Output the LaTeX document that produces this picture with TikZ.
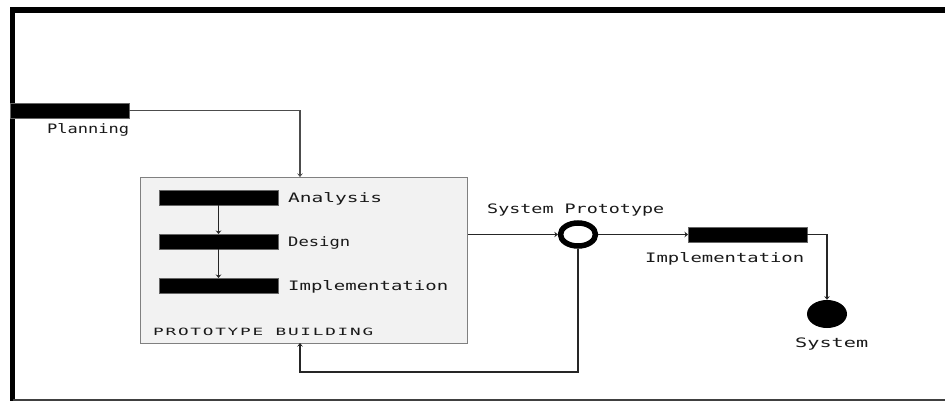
\documentclass[tikz,border=0pt]{standalone}
\usepackage{graphicx}
\usepackage{fontspec}
\setmainfont{DejaVu Sans Mono}
\newfontfamily\pixfont{DejaVu Sans Mono}
\newfontfamily\capfont[LetterSpace=10]{DejaVu Sans Mono}
\newcommand{\fitw}[2]{\resizebox{#1pt}{\height}{#2}}
\usetikzlibrary{arrows.meta,shapes.geometric}
\tikzset{
  x=1pt,y=-1pt,
  bar/.style={fill=black,draw=black!60,line width=0.4pt,minimum width=119pt,minimum height=15pt,inner sep=0pt,outer sep=0pt},
  lab/.style={inner sep=0pt,anchor=base west,font=\pixfont\fontsize{13}{14}\selectfont,text=black!90},
  conn/.style={draw=black!85,line width=1.2pt,-{Stealth[length=3.5pt,width=5.5pt]}},
  frameline/.style={line width=5.3pt,line join=miter},
}
\begin{document}
\begin{tikzpicture}
\useasboundingbox (0,0) rectangle (945,401);
\fill[white] (0,0) rectangle (945,401);
\coordinate (fa) at (12.7,401);
\coordinate (fb) at (12.7,10);
\coordinate (fc) at (945,10);
\coordinate (fd) at (12.7,400);
\coordinate (fe) at (945,400);
\draw[frameline] (fa) -- (fb) -- (fc);
\draw[black!75,line width=1.6pt] (fd) -- (fe);
\node[bar,anchor=north west] (plan) at (10,103) {};
\node[lab] (planl) at (47,134) {\fitw{82}{Planning}};
\node[draw=black!50,fill=black!5,line width=1.2pt,minimum width=327pt,minimum height=166pt,inner sep=0pt,anchor=north west] (pb) at (140,177) {};
\node[bar,anchor=north west] (an) at (159,190) {};
\node[bar,anchor=north west] (de) at (159,234) {};
\node[bar,anchor=north west] (im) at (159,278) {};
\node[lab] (anl) at (288,202) {\fitw{94}{Analysis}};
\node[lab] (del) at (288,246) {\fitw{62}{Design}};
\node[lab] (iml) at (288,290) {\fitw{160}{Implementation}};
\node[lab,font=\capfont\fontsize{10}{11}\selectfont] (pbl) at (153,335) {\fitw{220}{PROTOTYPE BUILDING}};
\node[ellipse,draw=black,fill=white,line width=5.5pt,minimum width=35pt,minimum height=23pt,inner sep=0pt,outer sep=2.7pt] (sp) at (578,234.5) {};
\node[lab] (spl) at (487,213) {\fitw{177}{System Prototype}};
\node[bar,anchor=north west] (im2) at (688,227) {};
\node[lab] (im2l) at (645,262) {\fitw{159}{Implementation}};
\node[ellipse,fill=black,minimum width=40pt,minimum height=28pt,inner sep=0pt] (sys) at (827,314) {};
\node[lab] (sysl) at (795,347) {\fitw{73}{System}};
\coordinate (pbt) at (300,177);
\coordinate (pbb) at (300,343);
\coordinate (ret) at (578,372);
\draw[conn,draw=black!70] (plan.east) -| (pbt);
\draw[conn] (an.south) -- (de.north);
\draw[conn] (de.south) -- (im.north);
\draw[conn] (pb.east |- sp) -- (sp.west);
\draw[conn] (sp.east) -- (im2.west);
\draw[conn] (im2.east) -| (sys.north);
\draw[conn,line width=1.4pt] (sp.south) -- (ret) -| (pbb);
\end{tikzpicture}
\end{document}
